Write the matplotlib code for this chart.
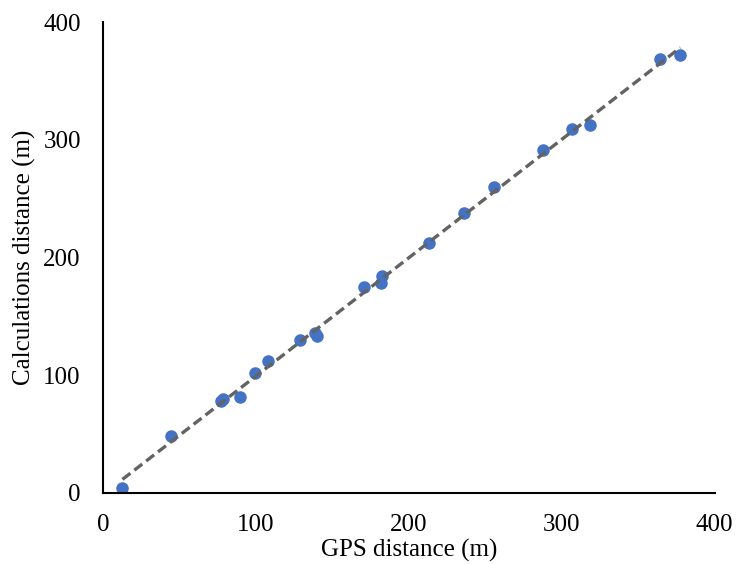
import matplotlib.pyplot as plt
import numpy as np

plt.rcParams['font.family'] = ['Liberation Serif', 'DejaVu Serif']

gps = [12.7, 44.5, 77.1, 78.6, 89.7, 99.4, 108.1, 128.9, 138.5, 140.0,
       170.5, 182.6, 182.0, 213.0, 236.0, 255.6, 288.0, 306.5, 318.5,
       364.5, 377.5]
calc = [4.0, 48.4, 78.3, 79.6, 81.8, 101.7, 112.0, 130.0, 136.2, 133.6,
        174.7, 184.4, 178.2, 212.5, 238.0, 259.9, 291.2, 309.2, 312.7,
        368.3, 372.2]

gps = np.array(gps)
calc = np.array(calc)

# linear trendline over data range
k, b = np.polyfit(gps, calc, 1)
tx = np.array([gps.min(), gps.max()])

fig = plt.figure(figsize=(7.37, 5.64), dpi=100)
ax = fig.add_axes([0.1398, 0.1259, 0.830, 0.835])

ax.plot(tx, k * tx + b, '--', color='#636363', linewidth=2.4, dashes=(3, 1.5), zorder=3)
ax.plot(gps, calc, 'o', color='#4472C4', markersize=8, zorder=2)

ax.set_xlim(0, 400)
ax.set_ylim(0, 400)
ax.set_xticks([0, 100, 200, 300, 400])
ax.set_yticks([0, 100, 200, 300, 400])
ax.tick_params(length=0, labelsize=18)
ax.tick_params(axis='x', pad=15)
ax.tick_params(axis='y', pad=16)
ax.spines['top'].set_visible(False)
ax.spines['right'].set_visible(False)
ax.spines['left'].set_linewidth(1.5)
ax.spines['bottom'].set_linewidth(1.5)
ax.set_xlabel('GPS distance (m)', fontsize=18, labelpad=2)
ax.set_ylabel('Calculations distance (m)', fontsize=18, labelpad=5)

fig.savefig('out.png')
